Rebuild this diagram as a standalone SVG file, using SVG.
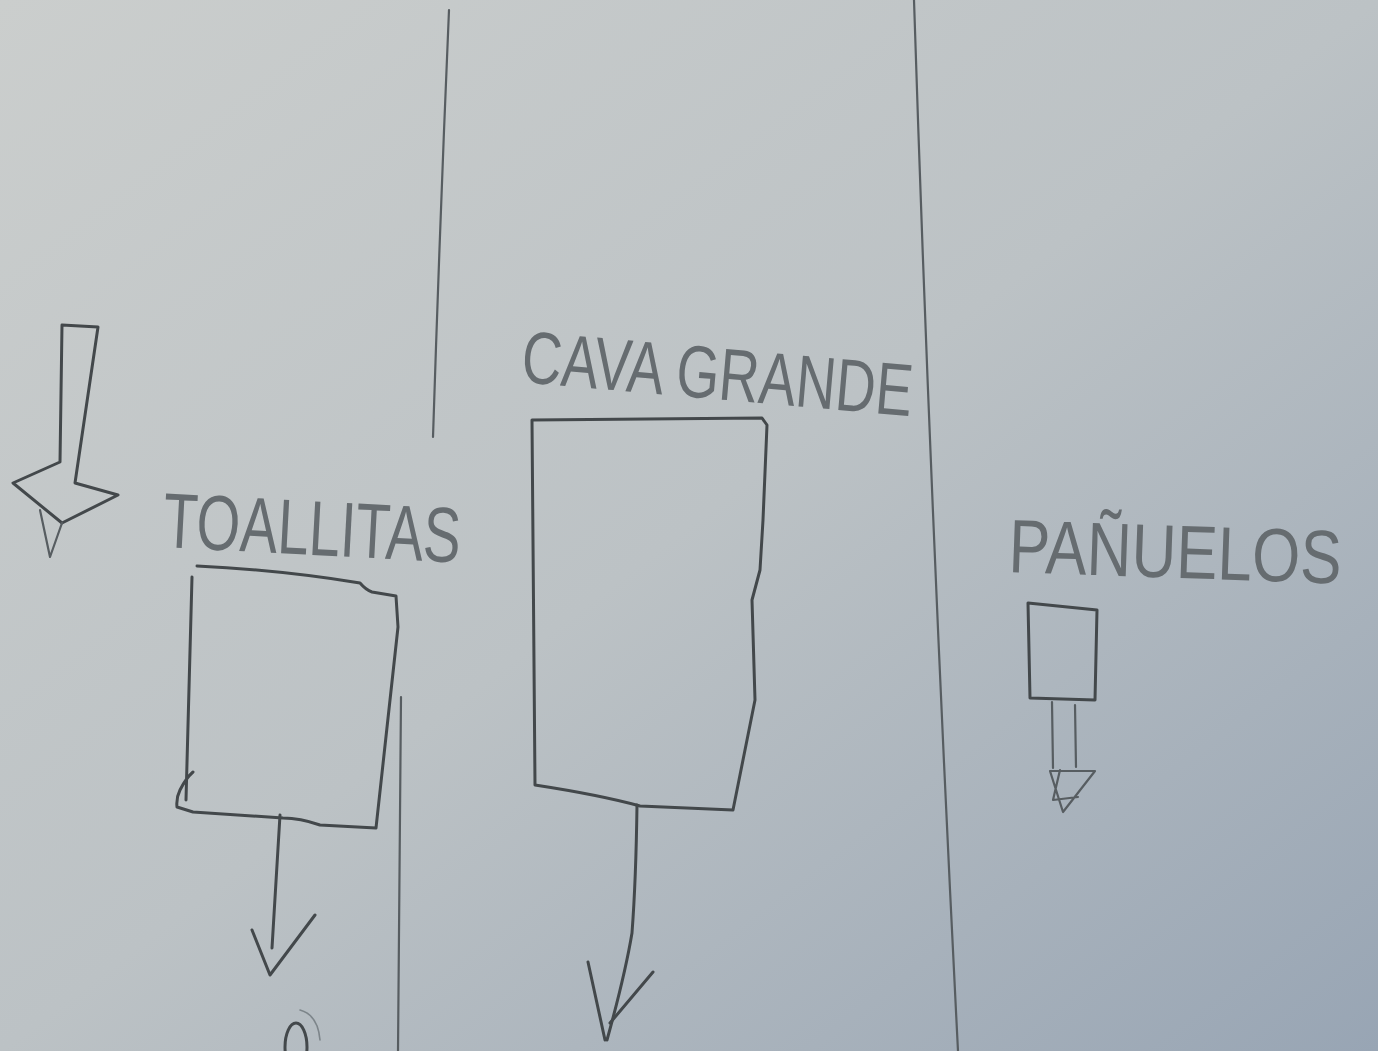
<svg xmlns="http://www.w3.org/2000/svg" width="1378" height="1051" viewBox="0 0 1378 1051">
<defs>
<linearGradient id="paper" x1="0" y1="0" x2="1" y2="1">
<stop offset="0" stop-color="#cbcecd"/>
<stop offset="0.5" stop-color="#bcc2c5"/>
<stop offset="1" stop-color="#98a5b4"/>
</linearGradient>
<style>
.pen{fill:none;stroke:#43484b;stroke-width:3;stroke-linecap:round;stroke-linejoin:round}
.thin{fill:none;stroke:#575d61;stroke-width:2.2;stroke-linecap:round;stroke-linejoin:round}
.faint{fill:none;stroke:#7d858a;stroke-width:1.6;stroke-linecap:round}
.lbl{font-family:"Liberation Sans","DejaVu Sans",sans-serif;fill:#666c70;font-weight:normal}
</style>
</defs>
<rect width="1378" height="1051" fill="url(#paper)"/>
<g id="lanes">
<path class="thin" d="M449 10 Q440 220 433 437"/>
<path class="thin" d="M914 0 Q930 500 958 1051"/>
<path class="thin" d="M401 697 L398 1051"/>
</g>
<g id="entry-arrow">
<path class="pen" d="M62 325 L98 327 L75 483 L118 495 L62 523 L13 483 L60 462 L62 325"/>
<path class="thin" d="M40 510 L50 557 L62 523"/>
</g>
<g id="toallitas">
<text class="lbl" x="162" y="547" font-size="78" textLength="298" lengthAdjust="spacingAndGlyphs" transform="rotate(3 162 547)">TOALLITAS</text>
<path class="pen" d="M197 566 Q280 570 360 583 Q366 590 372 592 L396 596 L398 627 L390 700 L376 828 L320 825 Q300 818 283 818 L193 812 L177 807 Q176 798 180 790 Q186 778 193 772 M192 577 L186 800"/>
</g>
<g id="cava-grande">
<text class="lbl" x="520" y="382" font-size="74" textLength="392" lengthAdjust="spacingAndGlyphs" transform="rotate(5 520 382)">CAVA GRANDE</text>
<path class="pen" d="M532 420 L762 418 L767 425 L763 520 L760 570 L752 600 L755 700 L733 810 L640 806 Q600 795 535 785 L532 420"/>
</g>
<g id="panuelos">
<text class="lbl" x="0" y="0" font-size="62" transform="translate(1008 572) rotate(2) scale(1 1.22)">PAÑUELOS</text>
<path class="pen" d="M1028 603 L1097 610 L1095 700 L1030 698 Z"/>
</g>
<g id="connectors">
<path class="pen" d="M280 815 L272 948"/>
<path class="pen" d="M252 930 L270 975 L315 915"/>
<path class="pen" d="M637 805 Q636 880 632 933 Q625 975 607 1040"/>
<path class="pen" d="M588 962 L605 1040 M653 972 L610 1023"/>
<path class="thin" d="M1052 702 L1053 768 M1075 705 L1076 767"/>
<path class="thin" d="M1050 771 L1095 771 L1063 812 Z M1060 770 L1053 800 L1078 797"/>
</g>
<g id="mark">
<ellipse class="pen" cx="296" cy="1047" rx="11" ry="24"/>
<path class="faint" d="M300 1010 Q318 1015 320 1040"/>
</g>
</svg>
